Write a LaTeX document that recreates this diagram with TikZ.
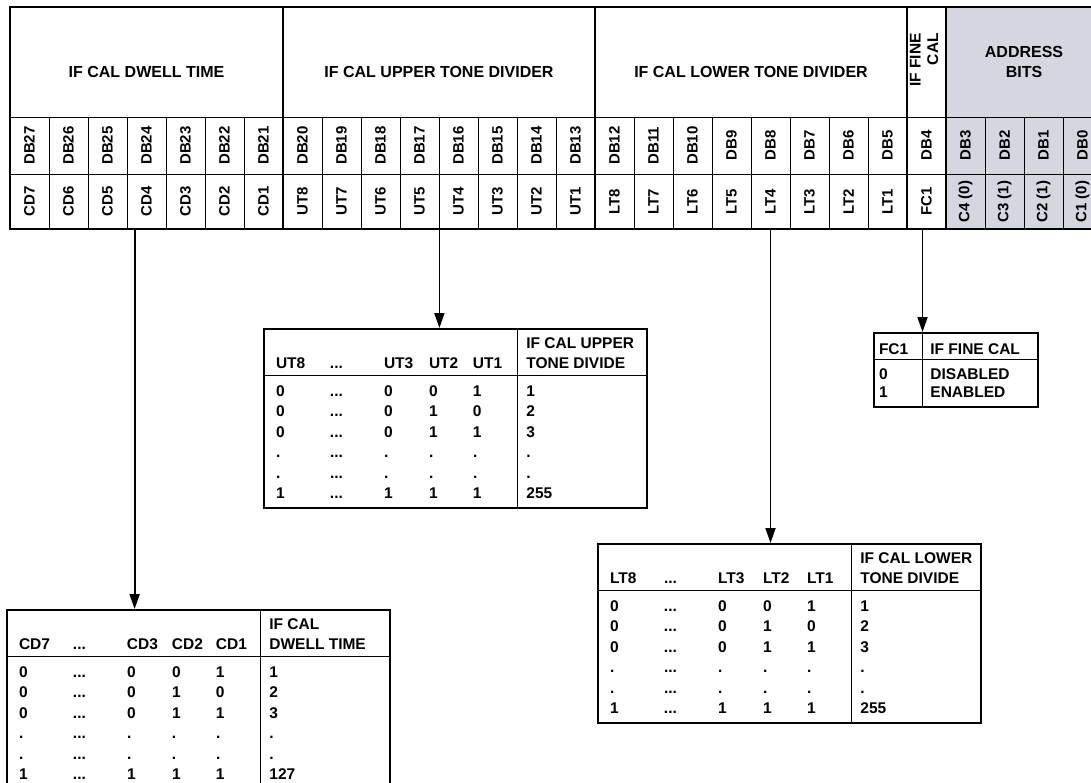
\documentclass[tikz,border=0pt]{standalone}
\usepackage{fontspec}
\setmainfont{Liberation Sans}
\usepackage{graphicx}
\usepackage{xcolor}
\definecolor{addrgray}{HTML}{D4D7DF}
\usepackage{tikz}
\usetikzlibrary{arrows.meta, calc}
\setlength{\arrayrulewidth}{0.8pt}
\newcommand{\divtable}[5]{%
  \begin{tabular}{@{\hspace{12pt}}p{54pt}@{}p{54pt}@{}p{45pt}@{}p{44pt}@{}p{44pt}@{}|@{\hspace{9pt}}p{121pt}@{}}
    \rule{0pt}{19.4pt} & & & & & #3\\
    #1 & ... & #23 & #22 & #21 & #4\\ \hline
    \rule{0pt}{20.5pt}0 & ... & 0 & 0 & 1 & 1\\
    0 & ... & 0 & 1 & 0 & 2\\
    0 & ... & 0 & 1 & 1 & 3\\
    . & ... & . & . & . & .\\
    . & ... & . & . & . & .\\
    1 & ... & 1 & 1 & 1 & #5\rule[-9pt]{0pt}{0pt}
  \end{tabular}}
\newcommand{\fctable}{%
  \begin{tabular}{@{\hspace{5pt}}p{43pt}@{}|@{\hspace{8pt}}p{108pt}@{}}
    \rule{0pt}{21pt}FC1 & IF FINE CAL\\ \hline
    \rule{0pt}{19pt}0 & DISABLED\\
    1 & ENABLED\rule[-10pt]{0pt}{0pt}
  \end{tabular}}

\begin{document}
\begin{tikzpicture}[x=1pt, y=-1pt,
    bitcell/.style={draw, line width=0.8pt, minimum width=39pt, minimum height=57pt,
      inner sep=0pt, font=\fontsize{15}{18}\selectfont\bfseries},
    fldcell/.style={bitcell, minimum height=55pt},
    regframe/.style={line width=2pt},
    hdr/.style={font=\fontsize{16}{20}\selectfont\bfseries, align=center},
    tabbox/.style={draw, line width=2pt, inner sep=0pt, anchor=north west,
      font=\fontsize{15.5}{20.5}\selectfont\bfseries},
    arr/.style={line width=1.8pt, -{Triangle[length=15pt, width=10pt]}}]
  \useasboundingbox (0,0) rectangle (1091,782);

  % address bits background
  \fill[addrgray] (946,7) rectangle (1102,229);

  % register bit cells
  \foreach \db/\fld [count=\i from 0] in {27/CD7, 26/CD6, 25/CD5, 24/CD4, 23/CD3, 22/CD2, 21/CD1,
      20/UT8, 19/UT7, 18/UT6, 17/UT5, 16/UT4, 15/UT3, 14/UT2, 13/UT1,
      12/LT8, 11/LT7, 10/LT6, 9/LT5, 8/LT4, 7/LT3, 6/LT2, 5/LT1,
      4/FC1, 3/C4 (0), 2/C3 (1), 1/C2 (1), 0/C1 (0)}{
    \node[bitcell] (db\db) at ({29.5+39*\i},145.5) {\rotatebox{90}{DB\db}};
    \node[fldcell] (fld\i) at ({29.5+39*\i},201.5) {\rotatebox{90}{\fld}};
  }

  % register groups
  \draw[regframe] (10,7) rectangle (283,229);
  \draw[regframe] (283,7) rectangle (595,229);
  \draw[regframe] (595,7) rectangle (907,229);
  \draw[regframe] (907,7) rectangle (946,229);
  \draw[regframe] (946,7) rectangle (1102,229);

  \node[hdr] (hdw) at (146.5,72) {IF CAL DWELL TIME};
  \node[hdr] (hup) at (439,72) {IF CAL UPPER TONE DIVIDER};
  \node[hdr] (hlo) at (751,72) {IF CAL LOWER TONE DIVIDER};
  \node[hdr, rotate=90, align=right, font=\fontsize{15.5}{17.5}\selectfont\bfseries]
        (hfc) at (924,60) {IF FINE\\CAL};
  \node[hdr] (had) at (1024,62) {ADDRESS\\BITS};

  % truth tables
  \node[tabbox] (tdw) at (6,609) {\divtable{CD7}{CD}{IF CAL}{DWELL TIME}{127}};
  \node[tabbox] (tup) at (263,328) {\divtable{UT8}{UT}{IF CAL UPPER}{TONE DIVIDE}{255}};
  \node[tabbox] (tlo) at (597,543) {\divtable{LT8}{LT}{IF CAL LOWER}{TONE DIVIDE}{255}};
  \node[tabbox, font=\fontsize{15.5}{18}\selectfont\bfseries] (tfc) at (873,332) {\fctable};

  % connectors
  \coordinate (dwtap) at ($(fld3.south west)+(8,0)$);
  \coordinate (fctap) at ($(fld23.south)+(-4,0)$);
  \draw[arr] (dwtap) -- (dwtap |- tdw.north);
  \draw[arr] (fld10.south east) -- (fld10.south east |- tup.north);
  \draw[arr] (fld19.south) -- (fld19.south |- tlo.north);
  \draw[arr] (fctap) -- (fctap |- tfc.north);
\end{tikzpicture}
\end{document}
